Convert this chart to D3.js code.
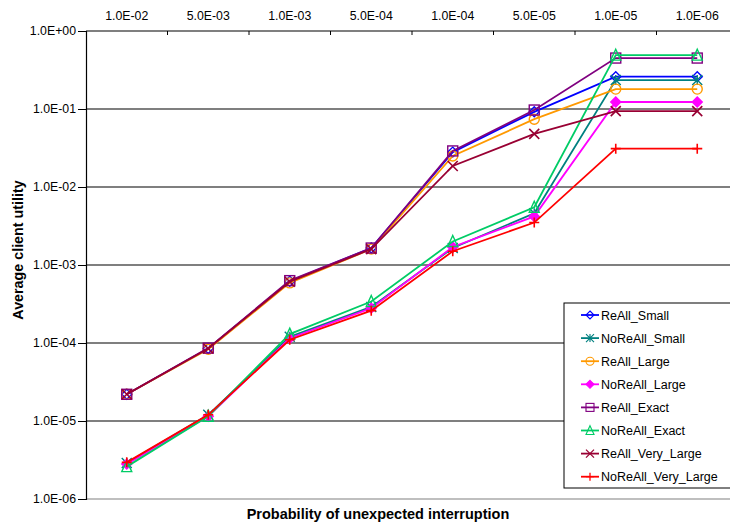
<!DOCTYPE html>
<html>
<head>
<meta charset="utf-8">
<script src="https://cdn.jsdelivr.net/npm/d3@7"></script>
<style>
  body { margin: 0; background: #fff; }
  svg { font-family: "Liberation Sans", Arial, sans-serif; }
</style>
</head>
<body>
<svg id="chart" width="730" height="525"></svg>
<script>
// categories (probability of unexpected interruption)
const categories = ["1.0E-02", "5.0E-03", "1.0E-03", "5.0E-04", "1.0E-04", "5.0E-05", "1.0E-05", "1.0E-06"];
const yTicks = [1e-6, 1e-5, 1e-4, 1e-3, 1e-2, 1e-1, 1];

// series values
const reAllSmall        = [2.2e-5, 8.5e-5, 6.2e-4, 1.65e-3, 2.8e-2, 0.092, 0.26, 0.26];
const noReAllSmall      = [2.9e-6, 1.2e-5, 1.2e-4, 2.9e-4, 1.65e-3, 4.6e-3, 0.235, 0.235];
const reAllLarge        = [2.2e-5, 8.3e-5, 5.9e-4, 1.6e-3, 2.5e-2, 0.074, 0.18, 0.18];
const noReAllLarge      = [2.8e-6, 1.15e-5, 1.15e-4, 2.8e-4, 1.7e-3, 4.2e-3, 0.123, 0.123];
const reAllExact        = [2.2e-5, 8.6e-5, 6.3e-4, 1.65e-3, 2.9e-2, 0.097, 0.45, 0.45];
const noReAllExact      = [2.6e-6, 1.15e-5, 1.3e-4, 3.4e-4, 2.0e-3, 5.5e-3, 0.49, 0.49];
const reAllVeryLarge    = [2.2e-5, 8.5e-5, 6.1e-4, 1.6e-3, 1.86e-2, 0.048, 0.094, 0.094];
const noReAllVeryLarge  = [2.95e-6, 1.2e-5, 1.1e-4, 2.6e-4, 1.5e-3, 3.5e-3, 0.031, 0.031];

const series = [
    { name: "ReAll_Small", values: reAllSmall, color: "#0000ff", marker: "diamond" },
    { name: "NoReAll_Small", values: noReAllSmall, color: "#008080", marker: "star" },
    { name: "ReAll_Large", values: reAllLarge, color: "#ff9900", marker: "circle" },
    { name: "NoReAll_Large", values: noReAllLarge, color: "#ff00ff", marker: "filledDiamond" },
    { name: "ReAll_Exact", values: reAllExact, color: "#800080", marker: "square" },
    { name: "NoReAll_Exact", values: noReAllExact, color: "#00cc66", marker: "triangle" },
    { name: "ReAll_Very_Large", values: reAllVeryLarge, color: "#990033", marker: "cross" },
    { name: "NoReAll_Very_Large", values: noReAllVeryLarge, color: "#ff0000", marker: "plus" }
];

const svg = d3.select("#chart");
const plotLeft = 86, plotRight = 738, plotTop = 31, plotBottom = 499;

const x = d3.scaleBand().domain(categories).range([plotLeft, plotRight]);
const cx = c => x(c) + x.bandwidth() / 2;
const y = d3.scaleLog().domain([1e-6, 1]).range([plotBottom, plotTop]);

// exponent format like 1.0E-03
function fmt(v) {
    const e = Math.round(Math.log10(v));
    const sign = e < 0 ? "-" : "+";
    return "1.0E" + sign + String(Math.abs(e)).padStart(2, "0");
}

// gridlines
svg.append("g")
    .selectAll("line")
    .data(yTicks)
    .join("line")
    .attr("x1", plotLeft).attr("x2", plotRight)
    .attr("y1", d => y(d)).attr("y2", d => y(d))
    .attr("stroke", d => d === 1e-6 ? "#808080" : "#000")
    .attr("stroke-width", 1.2);

// left axis
const yAxis = svg.append("g")
    .attr("transform", `translate(${plotLeft},0)`)
    .call(d3.axisLeft(y).tickValues(yTicks).tickFormat(fmt).tickSize(8).tickPadding(2));
yAxis.select(".domain").attr("stroke", "#000").attr("stroke-width", 1.2);
yAxis.selectAll("text").attr("font-size", 12.3).attr("fill", "#000");

// top axis: labels at category centres, ticks at band boundaries
const xAxis = svg.append("g")
    .attr("transform", `translate(0,${plotTop})`)
    .call(d3.axisTop(x).tickSize(0).tickPadding(11));
xAxis.select(".domain").remove();
xAxis.selectAll("text").attr("font-size", 12.3).attr("fill", "#000");
svg.append("g")
    .selectAll("line")
    .data(categories.slice(1))
    .join("line")
    .attr("x1", d => x(d)).attr("x2", d => x(d))
    .attr("y1", plotTop).attr("y2", plotTop + 4)
    .attr("stroke", "#000");

// axis titles
svg.append("text")
    .attr("x", 378).attr("y", 519)
    .attr("text-anchor", "middle")
    .attr("font-size", 14.5).attr("font-weight", "bold")
    .text("Probability  of  unexpected  interruption");
svg.append("text")
    .attr("transform", "translate(23,250) rotate(-90)")
    .attr("text-anchor", "middle")
    .attr("font-size", 14.3).attr("font-weight", "bold")
    .text("Average  client  utility");

// markers
function drawMarker(g, type, color) {
    const s = 5;
    if (type === "diamond" || type === "filledDiamond") {
        g.append("path").attr("d", `M0,${-s}L${s},0L0,${s}L${-s},0Z`)
            .attr("fill", type === "filledDiamond" ? color : "none")
            .attr("stroke", color).attr("stroke-width", 1.4);
    } else if (type === "circle") {
        g.append("circle").attr("r", s).attr("fill", "none").attr("stroke", color).attr("stroke-width", 1.4);
    } else if (type === "square") {
        g.append("rect").attr("x", -s).attr("y", -s).attr("width", 2 * s).attr("height", 2 * s)
            .attr("fill", "none").attr("stroke", color).attr("stroke-width", 1.4);
    } else if (type === "triangle") {
        g.append("path").attr("d", `M0,${-s - 1}L${s},${s}L${-s},${s}Z`)
            .attr("fill", "none").attr("stroke", color).attr("stroke-width", 1.4);
    } else if (type === "cross") {
        g.append("path").attr("d", `M${-s},${-s}L${s},${s}M${-s},${s}L${s},${-s}`)
            .attr("stroke", color).attr("stroke-width", 1.6);
    } else if (type === "plus") {
        g.append("path").attr("d", `M${-s},0L${s},0M0,${-s}L0,${s}`)
            .attr("stroke", color).attr("stroke-width", 1.6);
    } else if (type === "star") {
        g.append("path").attr("d", `M${-s},${-s}L${s},${s}M${-s},${s}L${s},${-s}M0,${-s}L0,${s}`)
            .attr("stroke", color).attr("stroke-width", 1.4);
    }
}

const line = d3.line()
    .x((d, i) => cx(categories[i]))
    .y(d => y(d));

const plot = svg.append("g");
series.forEach(s => {
    const g = plot.append("g");
    g.append("path")
        .datum(s.values)
        .attr("d", line)
        .attr("fill", "none")
        .attr("stroke", s.color)
        .attr("stroke-width", 1.8);
    s.values.forEach((v, i) => {
        const m = g.append("g").attr("transform", `translate(${cx(categories[i])},${y(v)})`);
        drawMarker(m, s.marker, s.color);
    });
});

// legend
const legend = svg.append("g");
legend.append("rect")
    .attr("x", 564).attr("y", 303).attr("width", 180).attr("height", 185)
    .attr("fill", "#fff").attr("stroke", "#000");
series.forEach((s, i) => {
    const ly = 315 + i * 23.1;
    legend.append("line")
        .attr("x1", 581).attr("x2", 599).attr("y1", ly).attr("y2", ly)
        .attr("stroke", s.color).attr("stroke-width", 1.8);
    drawMarker(legend.append("g").attr("transform", `translate(590,${ly}) scale(0.8)`), s.marker, s.color);
    legend.append("text")
        .attr("x", 601).attr("y", ly + 4.5)
        .attr("font-size", 12.5)
        .text(s.name);
});
</script>
</body>
</html>
